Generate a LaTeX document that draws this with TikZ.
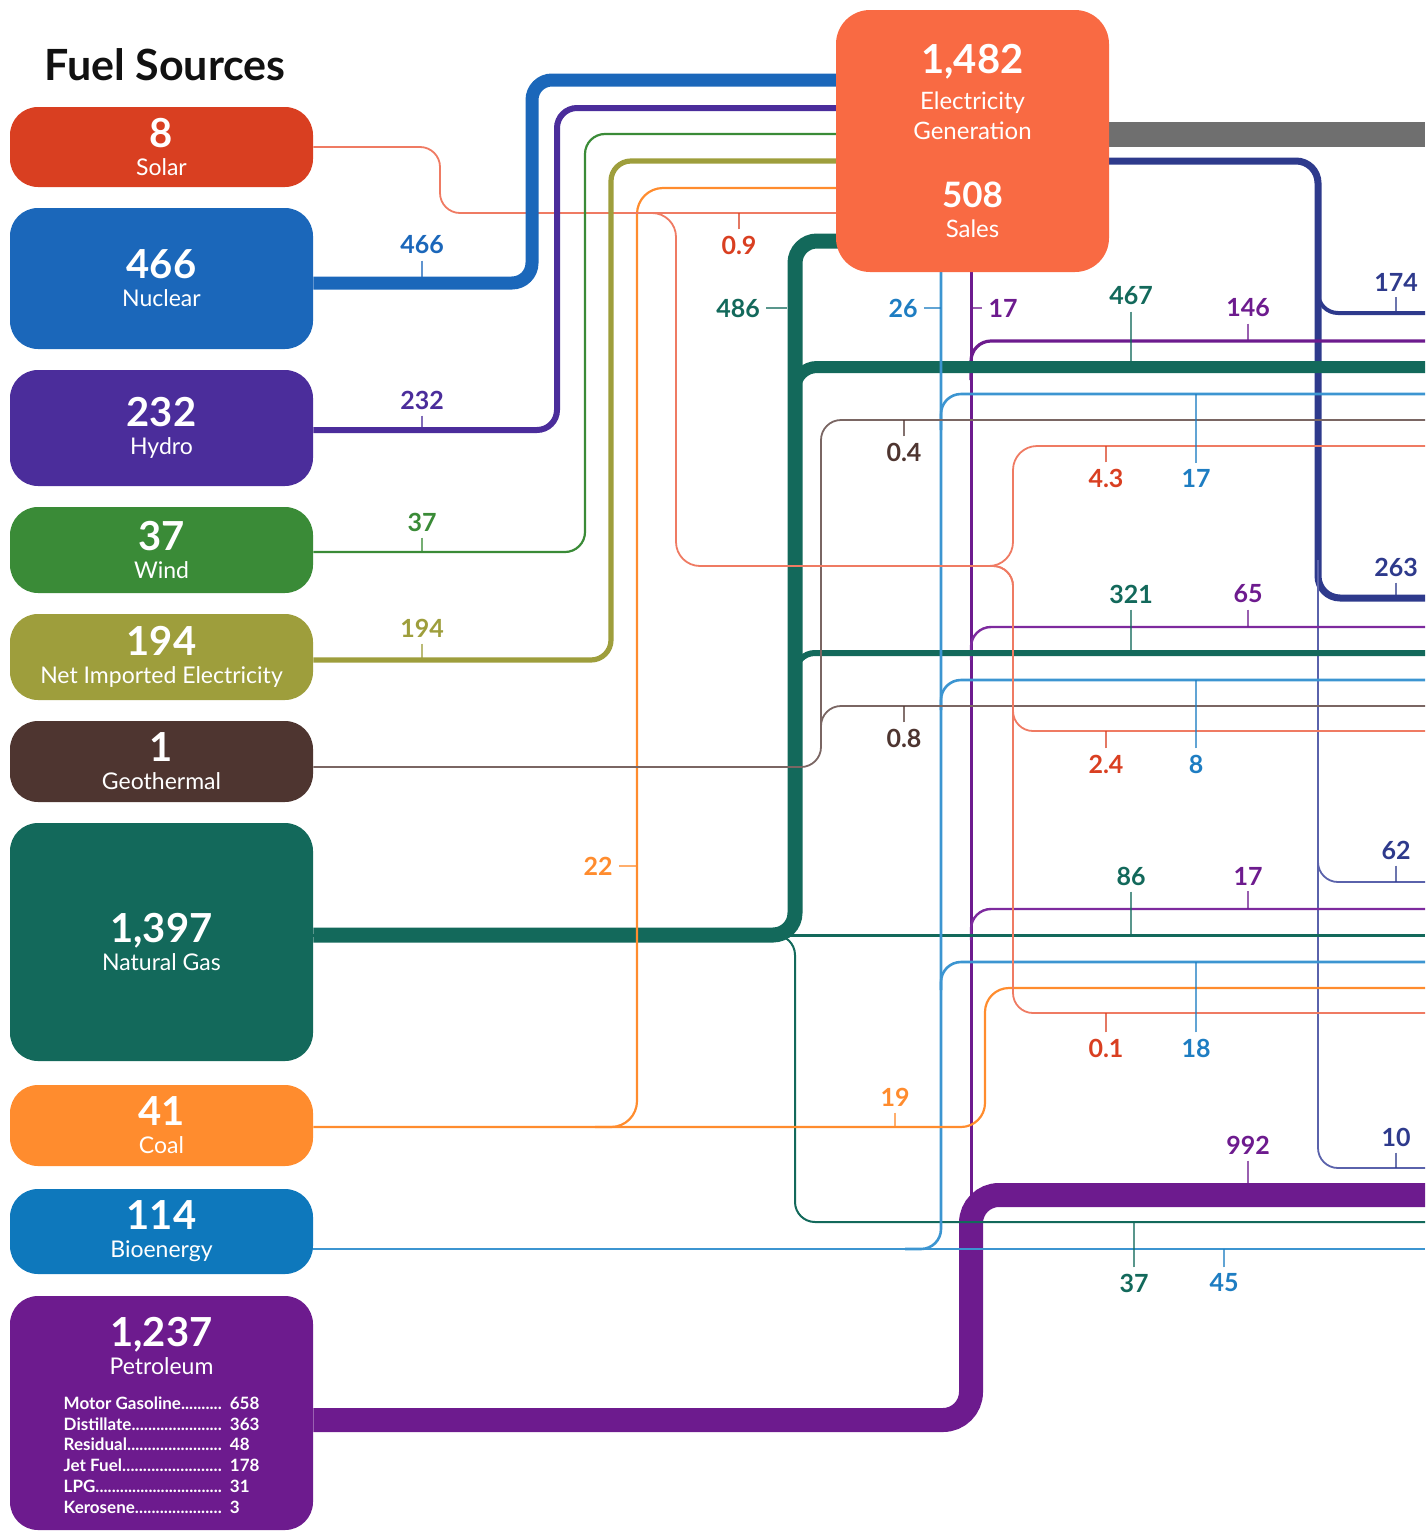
\documentclass[tikz,border=0pt]{standalone}
\usepackage{fontspec}
\setmainfont{Lato}
\usetikzlibrary{calc}
\pgfdeclarelayer{bg}
\pgfsetlayers{bg,main}
\definecolor{cd93f21}{RGB}{217,63,33}
\definecolor{c1b67ba}{RGB}{27,103,186}
\definecolor{c4b2d9b}{RGB}{75,45,155}
\definecolor{c3a8b37}{RGB}{58,139,55}
\definecolor{c9e9e3c}{RGB}{158,158,60}
\definecolor{c4e3530}{RGB}{78,53,48}
\definecolor{c13695b}{RGB}{19,105,91}
\definecolor{cff8c2e}{RGB}{255,140,46}
\definecolor{c0e78bc}{RGB}{14,120,188}
\definecolor{c6d1b8e}{RGB}{109,27,142}
\definecolor{cf96a43}{RGB}{249,106,67}
\definecolor{c2e3a8c}{RGB}{46,58,140}
\definecolor{c6f6f6f}{RGB}{111,111,111}
\definecolor{cef7b63}{RGB}{239,123,99}
\definecolor{c7a6663}{RGB}{122,102,99}
\definecolor{c3c95d1}{RGB}{60,149,209}
\definecolor{c1e7dc2}{RGB}{30,125,194}
\definecolor{c7d2a9e}{RGB}{125,42,158}
\definecolor{c5a62ab}{RGB}{90,98,171}
\definecolor{c111111}{RGB}{17,17,17}
\newcommand{\petrow}[2]{\makebox[79pt][l]{#1\xleaders\hbox{.}\hfill}\hspace{4pt}#2\\}
\tikzset{
  srcbox/.style={rounded corners=14pt, minimum width=151.5pt, inner sep=0pt, text=white, align=center, font=\fontsize{11.5}{14}\selectfont},
  flowln/.style={draw, line cap=butt, rounded corners=10pt},
  vallab/.style={inner sep=3pt, font=\fontsize{12.5}{12.5}\selectfont\bfseries},
  valtick/.style={line width=0.8pt, draw opacity=0.7}
}

\begin{document}
\begin{tikzpicture}[x=0.5pt,y=-0.5pt]
\useasboundingbox (0,0) rectangle (1425,1531);
\coordinate (E) at (1425,0);
\node[font=\fontsize{21.5}{22}\selectfont\bfseries, text=c111111] (title) at (165,65) {Fuel Sources};

\begin{scope}[every node/.style={srcbox}]
\node[fill=cd93f21, minimum height=40pt] (solar) at (161.5,147) {{\fontsize{20}{20}\selectfont\bfseries 8}\\Solar};
\node[fill=c1b67ba, minimum height=70.5pt] (nuclear) at (161.5,278.5) {{\fontsize{20}{20}\selectfont\bfseries 466}\\Nuclear};
\node[fill=c4b2d9b, minimum height=58pt] (hydro) at (161.5,428) {{\fontsize{20}{20}\selectfont\bfseries 232}\\Hydro};
\node[fill=c3a8b37, minimum height=43pt] (wind) at (161.5,550) {{\fontsize{20}{20}\selectfont\bfseries 37}\\Wind};
\node[fill=c9e9e3c, minimum height=43pt] (netimp) at (161.5,657) {{\fontsize{20}{20}\selectfont\bfseries 194}\\Net Imported Electricity};
\node[fill=c4e3530, minimum height=40.5pt] (geo) at (161.5,761.5) {{\fontsize{20}{20}\selectfont\bfseries 1}\\Geothermal};
\node[fill=c13695b, minimum height=119pt] (gas) at (161.5,942) {{\fontsize{20}{20}\selectfont\bfseries 1,397}\\Natural Gas};
\node[fill=cff8c2e, minimum height=40.5pt] (coal) at (161.5,1125.5) {{\fontsize{20}{20}\selectfont\bfseries 41}\\Coal};
\node[fill=c0e78bc, minimum height=42.5pt] (bio) at (161.5,1231.5) {{\fontsize{20}{20}\selectfont\bfseries 114}\\Bioenergy};
\node[fill=c6d1b8e, minimum height=117pt] (pet) at (161.5,1413) {\rule{0pt}{20pt}{\fontsize{20}{20}\selectfont\bfseries 1,237}\\Petroleum\\[9pt]{\fontsize{8.5}{10.4}\selectfont\bfseries\begin{tabular}{@{}l@{}}
\petrow{Motor Gasoline}{658}
\petrow{Distillate}{363}
\petrow{Residual}{48}
\petrow{Jet Fuel}{178}
\petrow{LPG}{31}
\petrow{Kerosene}{3}
\end{tabular}}};
\node[fill=cf96a43, rounded corners=17pt, minimum width=136.5pt, minimum height=131pt] (elec) at (972.5,141) {};
\end{scope}

\node[text=white, font=\fontsize{20}{20}\selectfont\bfseries] (elecnum) at (972.5,62) {1,482};
\node[text=white, align=center, font=\fontsize{12}{15}\selectfont] (electxt) at (972.5,116) {Electricity\\Generation};
\node[text=white, font=\fontsize{17.5}{17.5}\selectfont\bfseries] (salesnum) at (972.5,195) {508};
\node[text=white, font=\fontsize{12}{12}\selectfont] (salestxt) at (972.5,229) {Sales};

\begin{pgfonlayer}{bg}
\draw[flowln, c6f6f6f, line width=12.5pt] (elec |- 0,134.5) -- (E |- 0,134.5);

\draw[flowln, c2e3a8c, line width=3.5pt, rounded corners=11pt] (elec |- 0,161) -| (1318,598) -- (E |- 0,598);
\draw[flowln, c2e3a8c, line width=2pt] (1318,280) |- (E |- 0,313);
\draw[flowln, c5a62ab, line width=0.9pt] (1318,560) |- (E |- 0,1168);
\draw[flowln, c5a62ab, line width=0.9pt] (1318,840) |- (E |- 0,882);

\draw[flowln, c6d1b8e, line width=12pt, rounded corners=14pt] (pet.east |- 0,1420) -| (971,1195) -- (E |- 0,1195);
\draw[flowln, c6d1b8e, line width=1.5pt] (971,1200) -- (elec -| 971,0);
\draw[flowln, c6d1b8e, line width=1.6pt] (971,380) |- (E |- 0,341);
\draw[flowln, c7d2a9e, line width=1.2pt] (971,660) |- (E |- 0,627);
\draw[flowln, c7d2a9e, line width=1.2pt] (971,940) |- (E |- 0,909);

\draw[flowln, c13695b, line width=7.5pt, rounded corners=11pt] (gas.east |- 0,935) -| (795,241) -- (elec |- 0,241);
\draw[flowln, c13695b, line width=6pt, rounded corners=11pt] (795,400) |- (E |- 0,367);
\draw[flowln, c13695b, line width=3pt] (795,690) |- (E |- 0,653);
\draw[flowln, c13695b, line width=1.5pt] (gas.east |- 0,935) -- (E |- 0,935);
\draw[flowln, c13695b, line width=1pt] (770,935) -| (795,1222) -- (E |- 0,1222);

\draw[flowln, c3c95d1, line width=1.3pt] (bio.east |- 0,1249) -- (E |- 0,1249);
\draw[flowln, c3c95d1, line width=1.3pt] (905,1249) -| (elec -| 941,0);
\draw[flowln, c3c95d1, line width=1.3pt] (941,430) |- (E |- 0,394);
\draw[flowln, c3c95d1, line width=1.3pt] (941,710) |- (E |- 0,680);
\draw[flowln, c3c95d1, line width=1.3pt] (941,990) |- (E |- 0,962);

\draw[flowln, cff8c2e, line width=1.1pt, rounded corners=12pt] (coal.east |- 0,1127) -| (985,988) -- (E |- 0,988);
\draw[flowln, cff8c2e, line width=1.1pt, rounded corners=13pt] (595,1127) -| (637,188) -- (elec |- 0,188);

\draw[flowln, c7a6663, line width=0.9pt] (geo.east |- 0,767) -| (821,420) -- (E |- 0,420);
\draw[flowln, c7a6663, line width=0.9pt] (821,740) |- (E |- 0,706);

\draw[flowln, cef7b63, line width=0.9pt] (solar.east) -| (440,213) -- (elec |- 0,213);
\draw[flowln, cef7b63, line width=0.9pt, rounded corners=12pt] (600,213) -| (676,566) -| (1013,446) -- (E |- 0,446);
\draw[flowln, cef7b63, line width=0.9pt] (980,566) -| (1013,731) -- (E |- 0,731);
\draw[flowln, cef7b63, line width=0.9pt] (980,566) -| (1013,1013) -- (E |- 0,1013);

\draw[flowln, c9e9e3c, line width=2.6pt] (netimp.east |- 0,660) -| (611,161) -- (elec |- 0,161);
\draw[flowln, c3a8b37, line width=1.1pt] (wind.east |- 0,552) -| (585,134) -- (elec |- 0,134);
\draw[flowln, c4b2d9b, line width=3pt] (hydro.east |- 0,430) -| (557,108) -- (elec |- 0,108);
\draw[flowln, c1b67ba, line width=6.5pt] (nuclear.east |- 0,283) -| (532,80) -- (elec |- 0,80);
\end{pgfonlayer}

\node[vallab, text=c1b67ba] (l466) at (422,245) {466};
\draw[valtick, c1b67ba] (l466.south) -- (l466.south |- 0,283);
\node[vallab, text=c4b2d9b] (l232) at (422,400) {232};
\draw[valtick, c4b2d9b] (l232.south) -- (l232.south |- 0,430);
\node[vallab, text=c3a8b37] (l37w) at (422,522) {37};
\draw[valtick, c3a8b37] (l37w.south) -- (l37w.south |- 0,552);
\node[vallab, text=c9e9e3c] (l194) at (422,628) {194};
\draw[valtick, c9e9e3c] (l194.south) -- (l194.south |- 0,660);
\node[vallab, text=cd93f21] (l09) at (739,245) {0.9};
\draw[valtick, cd93f21] (l09.north) -- (l09.north |- 0,213);
\node[vallab, text=c13695b] (l486) at (738,308) {486};
\draw[valtick, c13695b] (l486.east) -- (l486.east -| 787,0);
\node[vallab, text=c1e7dc2] (l26) at (903,308) {26};
\draw[valtick, c1e7dc2] (l26.east) -- (l26.east -| 941,0);
\node[vallab, text=c6d1b8e] (l17p) at (1003,308) {17};
\draw[valtick, c6d1b8e] (l17p.west) -- (l17p.west -| 971,0);
\node[vallab, text=c13695b] (l467) at (1131,296) {467};
\draw[valtick, c13695b] (l467.south) -- (l467.south |- 0,361);
\node[vallab, text=c6d1b8e] (l146) at (1248,308) {146};
\draw[valtick, c6d1b8e] (l146.south) -- (l146.south |- 0,341);
\node[vallab, text=c2e3a8c] (l174) at (1396,282) {174};
\draw[valtick, c2e3a8c] (l174.south) -- (l174.south |- 0,313);
\node[vallab, text=c4e3530] (l04) at (904,452) {0.4};
\draw[valtick, c4e3530] (l04.north) -- (l04.north |- 0,420);
\node[vallab, text=cd93f21] (l43) at (1106,478) {4.3};
\draw[valtick, cd93f21] (l43.north) -- (l43.north |- 0,446);
\node[vallab, text=c1e7dc2] (l17b) at (1196,478) {17};
\draw[valtick, c1e7dc2] (l17b.north) -- (l17b.north |- 0,394);
\node[vallab, text=c2e3a8c] (l263) at (1396,567) {263};
\draw[valtick, c2e3a8c] (l263.south) -- (l263.south |- 0,597);
\node[vallab, text=c13695b] (l321) at (1131,594) {321};
\draw[valtick, c13695b] (l321.south) -- (l321.south |- 0,651);
\node[vallab, text=c6d1b8e] (l65) at (1248,594) {65};
\draw[valtick, c6d1b8e] (l65.south) -- (l65.south |- 0,627);
\node[vallab, text=c4e3530] (l08) at (904,738) {0.8};
\draw[valtick, c4e3530] (l08.north) -- (l08.north |- 0,706);
\node[vallab, text=cd93f21] (l24) at (1106,764) {2.4};
\draw[valtick, cd93f21] (l24.north) -- (l24.north |- 0,731);
\node[vallab, text=c1e7dc2] (l8) at (1196,764) {8};
\draw[valtick, c1e7dc2] (l8.north) -- (l8.north |- 0,680);
\node[vallab, text=cff8c2e] (l22) at (598,866) {22};
\draw[valtick, cff8c2e] (l22.east) -- (l22.east -| 637,0);
\node[vallab, text=c2e3a8c] (l62) at (1396,850) {62};
\draw[valtick, c2e3a8c] (l62.south) -- (l62.south |- 0,882);
\node[vallab, text=c13695b] (l86) at (1131,876) {86};
\draw[valtick, c13695b] (l86.south) -- (l86.south |- 0,935);
\node[vallab, text=c6d1b8e] (l17c) at (1248,876) {17};
\draw[valtick, c6d1b8e] (l17c.south) -- (l17c.south |- 0,909);
\node[vallab, text=cd93f21] (l01) at (1106,1048) {0.1};
\draw[valtick, cd93f21] (l01.north) -- (l01.north |- 0,1013);
\node[vallab, text=c1e7dc2] (l18) at (1196,1048) {18};
\draw[valtick, c1e7dc2] (l18.north) -- (l18.north |- 0,962);
\node[vallab, text=cff8c2e] (l19) at (895,1097) {19};
\draw[valtick, cff8c2e] (l19.south) -- (l19.south |- 0,1127);
\node[vallab, text=c6d1b8e] (l992) at (1248,1145) {992};
\draw[valtick, c6d1b8e] (l992.south) -- (l992.south |- 0,1183);
\node[vallab, text=c2e3a8c] (l10) at (1396,1137) {10};
\draw[valtick, c2e3a8c] (l10.south) -- (l10.south |- 0,1168);
\node[vallab, text=c13695b] (l37g) at (1134,1283) {37};
\draw[valtick, c13695b] (l37g.north) -- (l37g.north |- 0,1222);
\node[vallab, text=c1e7dc2] (l45) at (1224,1283) {45};
\draw[valtick, c1e7dc2] (l45.north) -- (l45.north |- 0,1249);
\end{tikzpicture}
\end{document}
